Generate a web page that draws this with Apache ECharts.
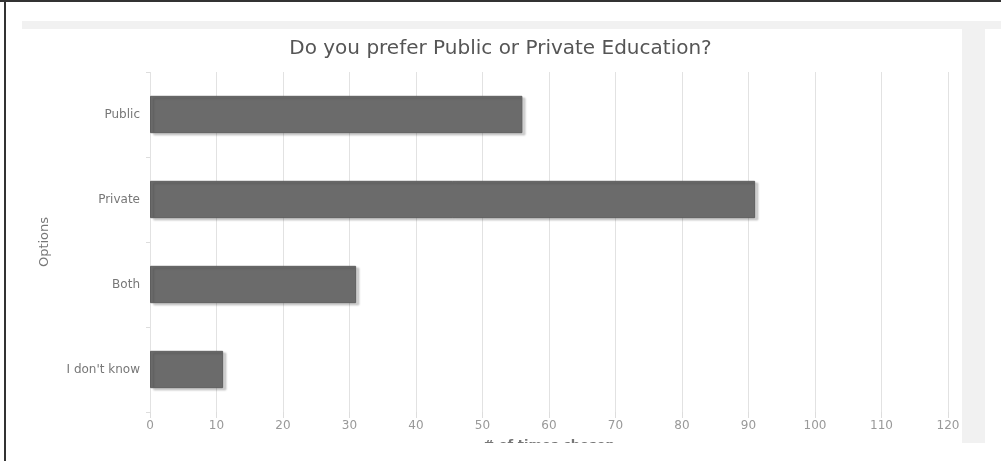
<!DOCTYPE html>
<html>
<head>
<meta charset="utf-8">
<script src="https://cdn.jsdelivr.net/npm/echarts@6/dist/echarts.min.js"></script>
<style>
  html, body { margin: 0; padding: 0; background: #fff; }
  #chart { width: 1001px; height: 461px; }
</style>
</head>
<body>
<div id="chart"></div>
<script>
// categories and counts
var categories = ['Public', 'Private', 'Both', "I don't know"]
var timesChosen = [56, 91, 31, 11]
var xTicks = { min: 0, max: 120, step: 10 }

var chart = echarts.init(document.getElementById('chart'))
chart.setOption({
  animation: false,
  backgroundColor: '#fff',
  textStyle: { fontFamily: 'DejaVu Sans' },
  title: {
    text: 'Do you prefer Public or Private Education?',
    left: 'center',
    top: 34,
    textStyle: { fontSize: 20, fontWeight: 'normal', color: '#555', fontFamily: 'DejaVu Sans' }
  },
  grid: { left: 150, right: 53, top: 72, bottom: 49 },
  xAxis: {
    type: 'value',
    min: xTicks.min,
    max: xTicks.max,
    interval: xTicks.step,
    name: '# of times chosen',
    nameLocation: 'middle',
    nameGap: 27,
    nameTextStyle: { color: '#777', fontSize: 13, fontWeight: 'bold' },
    axisLine: { show: false },
    axisTick: { show: true, length: 6, lineStyle: { color: '#ddd' } },
    axisLabel: { color: '#999', fontSize: 12, margin: 8 },
    splitLine: { show: true, lineStyle: { color: '#e2e2e2' } }
  },
  yAxis: {
    type: 'category',
    data: categories,
    inverse: true,
    name: 'Options',
    nameLocation: 'middle',
    nameGap: 99,
    nameTextStyle: { color: '#777', fontSize: 13 },
    axisLine: { show: false },
    axisTick: { show: true, length: 4, lineStyle: { color: '#ddd' } },
    axisLabel: { color: '#777', fontSize: 12, margin: 10 }
  },
  series: [{
    type: 'bar',
    data: timesChosen,
    barWidth: '44%',
    itemStyle: {
      color: '#6b6b6b',
      borderColor: '#5e5e5e',
      borderWidth: 1,
      shadowColor: 'rgba(0,0,0,0.18)',
      shadowBlur: 2,
      shadowOffsetX: 3,
      shadowOffsetY: 2
    }
  }],
  graphic: [
    // page decorations around the card
    { type: 'rect', z: -10, shape: { x: 22, y: 21, width: 979, height: 8 }, style: { fill: '#f1f1f1' } },
    { type: 'rect', z: -10, shape: { x: 962, y: 21, width: 23, height: 422 }, style: { fill: '#f1f1f1' } },
    { type: 'rect', z: -9, shape: { x: 22, y: 29, width: 940, height: 414, r: [0, 6, 0, 0] }, style: { fill: '#fff' } },
    // cut-off bottom, like the screenshot
    { type: 'rect', z: 100, shape: { x: 0, y: 443, width: 1001, height: 18 }, style: { fill: '#fff' } },
    // frame lines
    { type: 'rect', z: 101, shape: { x: 0, y: 0, width: 1001, height: 2 }, style: { fill: '#333' } },
    { type: 'rect', z: 101, shape: { x: 4, y: 0, width: 2, height: 461 }, style: { fill: '#333' } }
  ]
})
</script>
</body>
</html>
